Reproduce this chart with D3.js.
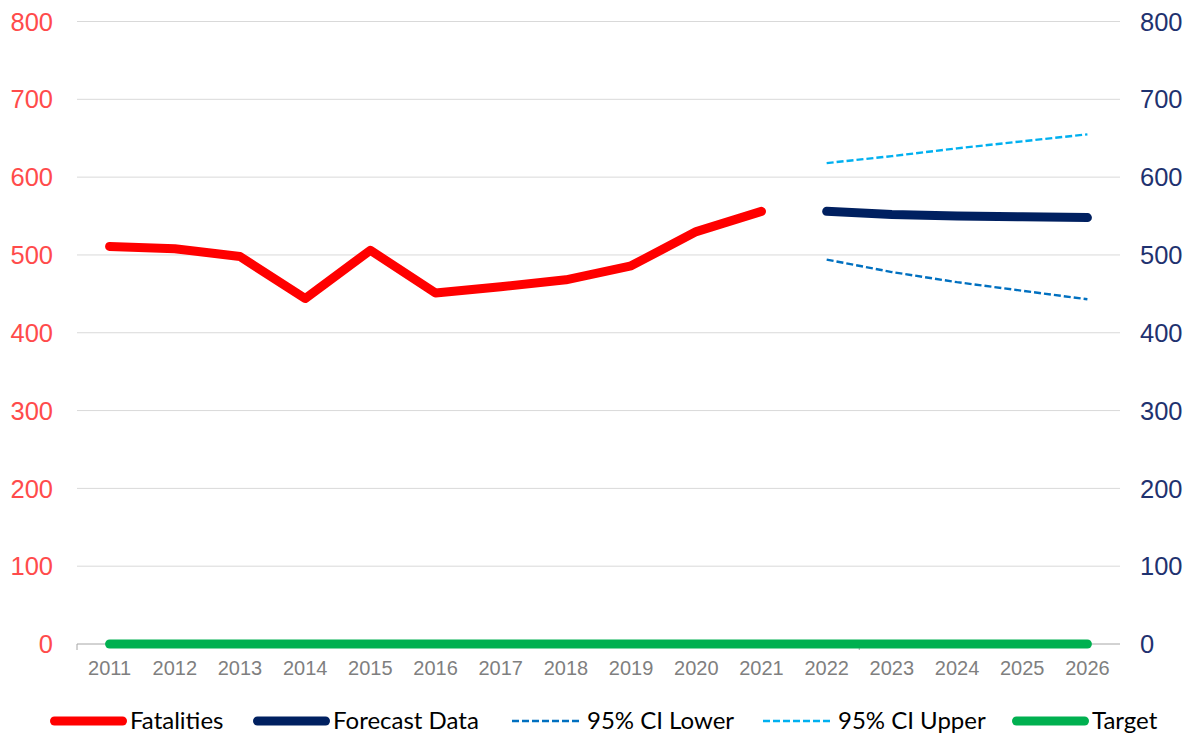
<!DOCTYPE html>
<html>
<head>
<meta charset="utf-8">
<script src="https://cdn.jsdelivr.net/npm/d3@7"></script>
<style>
  body { margin: 0; background: #fff; }
  svg { display: block; }
</style>
</head>
<body>
<script>
const w = 1193;
const h = 740;

const years = ["2011", "2012", "2013", "2014", "2015", "2016", "2017", "2018",
  "2019", "2020", "2021", "2022", "2023", "2024", "2025", "2026"];
const fatalities = [511, 508, 498, 444, 506, 451, 459, 468, 486, 530, 556];
const forecastYears = ["2022", "2023", "2024", "2025", "2026"];
const forecast = [556, 552, 550, 549, 548];
const ciLower = [494, 478, 465, 454, 443];
const ciUpper = [618, 627, 637, 646, 655];
const target = years.map(() => 0);
const yTicks = [0, 100, 200, 300, 400, 500, 600, 700, 800];

const plotLeft = 77, plotRight = 1120, plotTop = 21.5, plotBottom = 644;

const svg = d3.select("body")
  .append("svg")
  .attr("width", w)
  .attr("height", h);

const x = d3.scaleBand().domain(years).range([plotLeft, plotRight]);
const y = d3.scaleLinear().domain([0, 800]).range([plotBottom, plotTop]);
const cx = d => x(d) + x.bandwidth() / 2;

// gridlines
svg.append("g")
  .selectAll("line")
  .data(yTicks.filter(d => d > 0))
  .enter()
  .append("line")
  .attr("x1", plotLeft)
  .attr("x2", plotRight)
  .attr("y1", d => y(d))
  .attr("y2", d => y(d))
  .attr("stroke", "#d9d9d9")
  .attr("stroke-width", 1);

// left axis labels
svg.append("g")
  .selectAll("text")
  .data(yTicks)
  .enter()
  .append("text")
  .attr("x", 53)
  .attr("y", d => y(d))
  .attr("dy", "0.36em")
  .attr("text-anchor", "end")
  .style("font-family", "Liberation Sans, Arial, sans-serif")
  .style("font-size", "25.5px")
  .style("fill", "#ff4b4b")
  .text(d => d);

// right axis labels
svg.append("g")
  .selectAll("text")
  .data(yTicks)
  .enter()
  .append("text")
  .attr("x", 1140)
  .attr("y", d => y(d))
  .attr("dy", "0.36em")
  .style("font-family", "Liberation Sans, Arial, sans-serif")
  .style("font-size", "25.5px")
  .style("fill", "#1f3270")
  .text(d => d);

// x axis line and ticks
svg.append("line")
  .attr("x1", plotLeft).attr("x2", plotRight)
  .attr("y1", plotBottom).attr("y2", plotBottom)
  .attr("stroke", "#a6a6a6");

svg.append("g")
  .selectAll("line")
  .data([years[0], years[12]])
  .enter()
  .append("line")
  .attr("x1", d => x(d)).attr("x2", d => x(d))
  .attr("y1", plotBottom).attr("y2", plotBottom + 6)
  .attr("stroke", "#a6a6a6");

svg.append("g")
  .selectAll("text")
  .data(years)
  .enter()
  .append("text")
  .attr("x", d => cx(d))
  .attr("y", 675)
  .attr("text-anchor", "middle")
  .style("font-family", "Liberation Sans, Arial, sans-serif")
  .style("font-size", "20px")
  .style("fill", "#7f7f7f")
  .text(d => d);

const line = d3.line().x(d => cx(d[0])).y(d => y(d[1]));

// series
const series = [
  { label: "Fatalities", color: "#ff0000", width: 9, dash: null,
    pts: d3.zip(years.slice(0, fatalities.length), fatalities) },
  { label: "Forecast Data", color: "#002060", width: 9, dash: null,
    pts: d3.zip(forecastYears, forecast) },
  { label: "95% CI Lower", color: "#0070c0", width: 2.4, dash: "7,3",
    pts: d3.zip(forecastYears, ciLower) },
  { label: "95% CI Upper", color: "#00b0f0", width: 2.4, dash: "7,3",
    pts: d3.zip(forecastYears, ciUpper) },
  { label: "Target", color: "#00b050", width: 9, dash: null,
    pts: d3.zip(years, target) }
];

svg.append("g")
  .selectAll("path")
  .data(series)
  .enter()
  .append("path")
  .attr("d", d => line(d.pts))
  .attr("fill", "none")
  .attr("stroke", d => d.color)
  .attr("stroke-width", d => d.width)
  .attr("stroke-dasharray", d => d.dash)
  .attr("stroke-linecap", d => d.dash ? "butt" : "round")
  .attr("stroke-linejoin", "round");

// legend: x of each swatch's outer left edge
const legendX = [50, 253, 512, 763, 1012];
const legend = svg.append("g")
  .selectAll("g")
  .data(series)
  .enter()
  .append("g")
  .attr("transform", (d, i) => "translate(" + legendX[i] + ", 721)");

legend.append("line")
  .attr("x1", d => d.dash ? 0 : d.width / 2)
  .attr("x2", d => d.dash ? 68 : 77 - d.width / 2)
  .attr("stroke", d => d.color)
  .attr("stroke-width", d => d.width)
  .attr("stroke-dasharray", d => d.dash)
  .attr("stroke-linecap", d => d.dash ? "butt" : "round");

legend.append("text")
  .attr("x", d => d.dash ? 75 : 80)
  .attr("y", 8)
  .style("font-family", "Lato, Open Sans, sans-serif")
  .style("font-size", "24px")
  .style("fill", "#000")
  .text(d => d.label);
</script>
</body>
</html>
